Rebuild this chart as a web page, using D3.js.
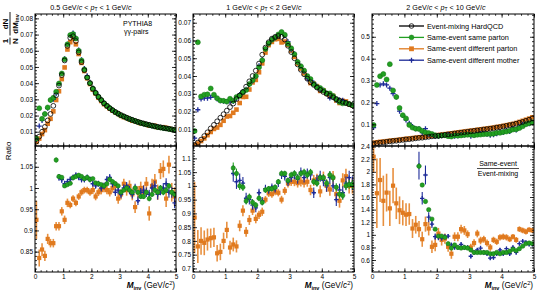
<!DOCTYPE html>
<html>
<head>
<meta charset="utf-8">
<script src="https://cdn.jsdelivr.net/npm/d3@7/dist/d3.min.js"></script>
<style>
  body { margin: 0; background: #fff; }
  svg { display: block; font-family: "Liberation Sans", Arial, Helvetica, sans-serif; }
</style>
</head>
<body>
<svg id="chart" width="538" height="292"></svg>
<script>
// invariant mass bins, 0.1 GeV/c^2 wide
const massBins = [0.05, 0.15, 0.25, 0.35, 0.45, 0.55, 0.65, 0.75, 0.85, 0.95,
  1.05, 1.15, 1.25, 1.35, 1.45, 1.55, 1.65, 1.75, 1.85, 1.95,
  2.05, 2.15, 2.25, 2.35, 2.45, 2.55, 2.65, 2.75, 2.85, 2.95,
  3.05, 3.15, 3.25, 3.35, 3.45, 3.55, 3.65, 3.75, 3.85, 3.95,
  4.05, 4.15, 4.25, 4.35, 4.45, 4.55, 4.65, 4.75, 4.85, 4.95]

const seriesNames = ['Event-mixing HardQCD', 'Same-event same parton', 'Same-event different parton', 'Same-event different mother']
const xTicks = [0, 1, 2, 3, 4, 5]

// ---- 0.5 < pT < 1 ----
const emPt1 = [0.004, 0.007, 0.010, 0.013, 0.017, 0.021, 0.026, 0.0325, 0.0385, 0.045,
  0.054, 0.063, 0.068, 0.069, 0.066, 0.059, 0.053, 0.048, 0.0435, 0.040,
  0.0365, 0.034, 0.0315, 0.0295, 0.0275, 0.026, 0.0245, 0.0233, 0.0222, 0.0212,
  0.0203, 0.0195, 0.0187, 0.018, 0.0173, 0.0167, 0.0161, 0.0156, 0.0151, 0.0146,
  0.0142, 0.0138, 0.0134, 0.013, 0.0127, 0.0124, 0.0121, 0.0118, 0.0115, 0.0112]
const sameParPt1 = [0.0058, 0.0245, 0.018, 0.021, 0.025, 0.0296, 0.031, 0.0347, 0.0398, 0.046,
  0.0547, 0.064, 0.0697, 0.0703, 0.0676, 0.060, 0.054, 0.0485, 0.0435, 0.040,
  0.0367, 0.034, 0.0316, 0.0296, 0.0276, 0.026, 0.0246, 0.0233, 0.0221, 0.0211,
  0.0201, 0.0194, 0.0186, 0.0178, 0.0173, 0.0166, 0.016, 0.0154, 0.015, 0.0145,
  0.0141, 0.0137, 0.0132, 0.0129, 0.0126, 0.0123, 0.012, 0.0117, 0.0114, 0.0111]
const diffParPt1 = [0.0037, 0.0058, 0.0086, 0.011, 0.015, 0.018, 0.0226, 0.0296, 0.035, 0.0425,
  0.0497, 0.0608, 0.0653, 0.0673, 0.064, 0.058, 0.0525, 0.0475, 0.043, 0.0395,
  0.036, 0.0336, 0.031, 0.029, 0.027, 0.0257, 0.0243, 0.023, 0.022, 0.021,
  0.0198, 0.019, 0.0185, 0.0177, 0.0168, 0.0165, 0.016, 0.0152, 0.015, 0.0145,
  0.0138, 0.014, 0.0137, 0.0128, 0.0127, 0.0128, 0.0124, 0.012, 0.0115, 0.0112]
const diffMomPt1 = [0.0052, 0.0135, 0.017, 0.021, 0.0245, 0.0295, 0.030, 0.0335, 0.0395, 0.046,
  0.055, 0.064, 0.0695, 0.071, 0.0678, 0.0605, 0.0545, 0.049, 0.0445, 0.0405,
  0.037, 0.0345, 0.032, 0.0297, 0.0277, 0.026, 0.0248, 0.0236, 0.0222, 0.021,
  0.02, 0.0194, 0.0184, 0.0176, 0.0174, 0.0164, 0.016, 0.0155, 0.0148, 0.0146,
  0.0142, 0.0136, 0.0134, 0.013, 0.0127, 0.0122, 0.012, 0.0118, 0.0114, 0.0108]

// ratios (first value of each list belongs to bin number "start")
const ratioSameParPt1 = {start: 7, v: [1.066, 1.027, 1.025, 1.005, 1.008, 1.011, 1.024, 1.027, 1.03, 1.027,
  1.022, 1.025, 1.02, 1.022, 1.012, 1.01, 1.008, 1.005, 1.01, 1.02,
  1.015, 1.01, 1.005, 0.99, 0.995, 1.0, 0.995, 0.99, 1.0, 0.99,
  0.98, 0.98, 0.99, 0.975, 0.985, 0.995, 0.99, 1.0, 0.99, 0.995,
  1.005, 0.99, 0.985],
  e: [0.006, 0.005, 0.005, 0.004, 0.004, 0.004, 0.004, 0.004, 0.004, 0.004,
  0.004, 0.004, 0.004, 0.004, 0.004, 0.004, 0.004, 0.004, 0.004, 0.005,
  0.005, 0.005, 0.005, 0.005, 0.005, 0.005, 0.005, 0.005, 0.006, 0.006,
  0.006, 0.006, 0.006, 0.006, 0.006, 0.006, 0.006, 0.007, 0.007, 0.007,
  0.007, 0.007, 0.007]}
const ratioDiffParPt1 = {start: 0, v: [0.925, 0.835, 0.855, 0.84, 0.88, 0.87, 0.87, 0.91, 0.91, 0.945,
  0.925, 0.965, 0.96, 0.975, 0.965, 0.98, 0.99, 0.995, 0.995, 0.99,
  0.995, 0.98, 0.99, 0.995, 1.0, 0.995, 0.99, 1.0, 1.005, 0.975,
  0.985, 1.01, 0.995, 1.005, 0.985, 0.955, 0.99, 1.0, 0.99, 1.01,
  0.94, 1.005, 1.015, 0.99, 1.04, 1.045, 0.975, 1.055, 0.99, 0.98],
  e: [0.045, 0.02, 0.015, 0.012, 0.012, 0.01, 0.01, 0.01, 0.01, 0.01,
  0.01, 0.01, 0.008, 0.008, 0.008, 0.008, 0.008, 0.008, 0.008, 0.008,
  0.009, 0.009, 0.009, 0.01, 0.01, 0.01, 0.01, 0.011, 0.011, 0.012,
  0.012, 0.012, 0.013, 0.013, 0.014, 0.014, 0.015, 0.015, 0.016, 0.016,
  0.017, 0.017, 0.018, 0.018, 0.019, 0.02, 0.02, 0.021, 0.022, 0.022]}
const ratioDiffMomPt1 = {start: 8, v: [1.025, 1.02, 1.01, 1.015, 1.02, 1.025, 1.03, 1.025, 1.02, 1.02,
  1.025, 1.02, 1.01, 1.005, 1.01, 1.0, 1.005, 1.02, 1.025, 1.01,
  0.99, 0.995, 0.985, 1.0, 1.005, 0.995, 0.985, 1.0, 0.97, 0.99,
  0.995, 0.99, 0.985, 1.0, 1.005, 0.985, 0.995, 1.0, 1.01, 0.99,
  0.99, 0.965],
  e: [0.008, 0.008, 0.007, 0.007, 0.007, 0.007, 0.007, 0.007, 0.007, 0.007,
  0.007, 0.007, 0.007, 0.007, 0.007, 0.008, 0.008, 0.008, 0.008, 0.008,
  0.009, 0.009, 0.009, 0.009, 0.009, 0.01, 0.01, 0.01, 0.01, 0.01,
  0.011, 0.011, 0.011, 0.011, 0.012, 0.012, 0.012, 0.012, 0.013, 0.013,
  0.013, 0.013]}

// ---- 1 < pT < 2 ----
const emPt2 = [0.0012, 0.0025, 0.0042, 0.0062, 0.0083, 0.0105, 0.0125, 0.0145, 0.0165, 0.0185,
  0.0205, 0.0225, 0.0245, 0.027, 0.029, 0.031, 0.034, 0.037, 0.040, 0.043,
  0.047, 0.052, 0.056, 0.059, 0.061, 0.062, 0.0625, 0.062, 0.0605, 0.057,
  0.0535, 0.050, 0.0465, 0.0435, 0.041, 0.0385, 0.0365, 0.035, 0.0335, 0.0322,
  0.031, 0.030, 0.029, 0.028, 0.027, 0.0262, 0.0255, 0.0248, 0.0241, 0.0235]
const sameParPt2 = [0.009, 0.059, 0.0285, 0.0295, 0.0297, 0.033, 0.0295, 0.0275, 0.0262, 0.026,
  0.0256, 0.0272, 0.0261, 0.0282, 0.029, 0.0308, 0.0321, 0.0355, 0.0376, 0.040,
  0.0449, 0.0489, 0.0552, 0.0584, 0.0604, 0.0617, 0.0634, 0.0648, 0.0632, 0.0581,
  0.0556, 0.0523, 0.0479, 0.0455, 0.0431, 0.040, 0.0383, 0.0355, 0.0338, 0.0332,
  0.0319, 0.0303, 0.0302, 0.0288, 0.0269, 0.0254, 0.0246, 0.0248, 0.0242, 0.0236]
const diffParPt2 = [0.0011, 0.002, 0.0034, 0.0049, 0.0067, 0.0085, 0.0102, 0.011, 0.0125, 0.0148,
  0.0172, 0.0175, 0.0193, 0.0211, 0.0248, 0.0282, 0.0283, 0.0324, 0.0364, 0.0378,
  0.0421, 0.0471, 0.0532, 0.0574, 0.0592, 0.0607, 0.0609, 0.0589, 0.0594, 0.0575,
  0.0543, 0.0508, 0.047, 0.0442, 0.0415, 0.0391, 0.036, 0.0357, 0.0343, 0.0316,
  0.0319, 0.030, 0.0286, 0.0288, 0.0262, 0.0248, 0.026, 0.0257, 0.0241, 0.0235]
const diffMomPt2 = [0.005, 0.021, 0.027, 0.0275, 0.0275, 0.028, 0.029, 0.027, 0.026, 0.0258,
  0.0255, 0.0255, 0.0256, 0.0274, 0.0296, 0.0313, 0.0325, 0.0352, 0.0372, 0.0396,
  0.0458, 0.0491, 0.0554, 0.0581, 0.0607, 0.0614, 0.0631, 0.0645, 0.0626, 0.0593,
  0.0548, 0.0525, 0.0479, 0.0455, 0.0426, 0.0385, 0.0376, 0.0362, 0.0342, 0.0322,
  0.032, 0.030, 0.0276, 0.0285, 0.0263, 0.0265, 0.0263, 0.0251, 0.0243, 0.0237]

const ratioSameParPt2 = {start: 12, v: [1.065, 1.045, 1.0, 0.995, 0.945, 0.96, 0.94, 0.93, 0.955, 0.94,
  0.985, 0.99, 0.99, 0.995, 1.015, 1.045, 1.045, 1.02, 1.04, 1.045,
  1.03, 1.045, 1.05, 1.04, 1.05, 1.015, 1.01, 1.03, 1.03, 1.01,
  1.04, 1.03, 0.995, 0.97, 0.965, 1.0, 1.005, 1.005],
  e: [0.02, 0.018, 0.015, 0.014, 0.013, 0.012, 0.012, 0.011, 0.011, 0.01,
  0.01, 0.01, 0.01, 0.01, 0.01, 0.01, 0.01, 0.01, 0.011, 0.011,
  0.011, 0.011, 0.012, 0.012, 0.012, 0.012, 0.013, 0.013, 0.013, 0.014,
  0.014, 0.014, 0.015, 0.015, 0.015, 0.016, 0.016, 0.016]}
const ratioDiffParPt2 = {start: 0, v: [0.885, 0.78, 0.80, 0.793, 0.805, 0.81, 0.813, 0.755, 0.76, 0.80,
  0.84, 0.776, 0.787, 0.78, 0.855, 0.91, 0.833, 0.876, 0.91, 0.88,
  0.895, 0.906, 0.95, 0.973, 0.97, 0.979, 0.975, 0.95, 0.982, 1.009,
  1.015, 1.015, 1.01, 1.015, 1.012, 1.015, 0.985, 1.02, 1.024, 0.98,
  1.03, 1.0, 0.987, 1.03, 0.97, 0.946, 1.02, 1.035, 1.0, 1.0],
  e: [0.13, 0.06, 0.05, 0.045, 0.04, 0.035, 0.035, 0.03, 0.03, 0.03,
  0.03, 0.025, 0.025, 0.022, 0.02, 0.02, 0.018, 0.018, 0.016, 0.016,
  0.015, 0.015, 0.013, 0.013, 0.013, 0.013, 0.013, 0.014, 0.014, 0.015,
  0.015, 0.016, 0.016, 0.017, 0.018, 0.018, 0.019, 0.02, 0.02, 0.021,
  0.022, 0.022, 0.023, 0.024, 0.025, 0.025, 0.026, 0.027, 0.028, 0.028]}
const ratioDiffMomPt2 = {start: 12, v: [1.045, 1.015, 1.02, 1.01, 0.955, 0.95, 0.93, 0.92, 0.975, 0.945,
  0.99, 0.985, 0.995, 0.99, 1.01, 1.04, 1.035, 1.015, 1.03, 1.04,
  1.025, 1.05, 1.03, 1.045, 1.04, 0.975, 1.02, 1.035, 1.02, 1.0,
  1.03, 1.0, 0.95, 0.985, 0.975, 1.01, 1.03, 1.01],
  e: [0.03, 0.026, 0.025, 0.022, 0.02, 0.018, 0.017, 0.016, 0.015, 0.015,
  0.014, 0.014, 0.014, 0.014, 0.014, 0.015, 0.015, 0.015, 0.016, 0.016,
  0.017, 0.017, 0.018, 0.018, 0.019, 0.019, 0.02, 0.02, 0.021, 0.021,
  0.022, 0.022, 0.023, 0.023, 0.024, 0.024, 0.025, 0.025]}

// ---- 2 < pT < 10 ----
const emPt3 = [0.012, 0.014, 0.016, 0.018, 0.020, 0.022, 0.024, 0.025, 0.027, 0.029,
  0.031, 0.032, 0.034, 0.036, 0.038, 0.039, 0.041, 0.043, 0.045, 0.046,
  0.048, 0.050, 0.052, 0.054, 0.056, 0.058, 0.060, 0.062, 0.064, 0.066,
  0.068, 0.070, 0.072, 0.074, 0.076, 0.078, 0.080, 0.082, 0.085, 0.087,
  0.090, 0.093, 0.096, 0.099, 0.103, 0.107, 0.111, 0.116, 0.121, 0.127]
const sameParPt3 = [0.097, 0.28, 0.32, 0.33, 0.305, 0.375, 0.255, 0.225, 0.175, 0.142,
  0.127, 0.097, 0.085, 0.08, 0.079, 0.070, 0.063, 0.060, 0.056, 0.050,
  0.047, 0.049, 0.050, 0.046, 0.044, 0.049, 0.048, 0.049, 0.051, 0.052,
  0.052, 0.050, 0.052, 0.053, 0.055, 0.056, 0.056, 0.057, 0.061, 0.061,
  0.065, 0.067, 0.071, 0.076, 0.077, 0.083, 0.091, 0.100, 0.105, 0.109]
const diffParPt3 = [0.016, 0.018, 0.020, 0.021, 0.023, 0.025, 0.027, 0.028, 0.030, 0.032,
  0.034, 0.035, 0.037, 0.039, 0.041, 0.042, 0.044, 0.046, 0.048, 0.049,
  0.051, 0.053, 0.055, 0.057, 0.059, 0.061, 0.063, 0.065, 0.067, 0.069,
  0.071, 0.073, 0.075, 0.077, 0.079, 0.081, 0.083, 0.085, 0.088, 0.090,
  0.093, 0.096, 0.099, 0.102, 0.106, 0.111, 0.116, 0.121, 0.126, 0.132]
const diffMomPt3 = [0.085, 0.195, 0.28, 0.285, 0.28, 0.265, 0.24, 0.225, 0.16, 0.14,
  0.12, 0.105, 0.09, 0.08, 0.08, 0.062, 0.08, 0.055, 0.053, 0.045,
  0.046, 0.048, 0.05, 0.053, 0.047, 0.046, 0.048, 0.053, 0.051, 0.053,
  0.045, 0.050, 0.055, 0.058, 0.059, 0.055, 0.050, 0.052, 0.057, 0.066,
  0.063, 0.073, 0.067, 0.082, 0.074, 0.089, 0.1, 0.102, 0.103, 0.108]

const ratioSameParPt3 = {start: 14, v: [2.09, 1.79, 1.53, 1.40, 1.25, 1.09, 0.98, 0.98, 0.96, 0.86,
  0.79, 0.84, 0.80, 0.79, 0.80, 0.79, 0.76, 0.72, 0.72, 0.72,
  0.72, 0.72, 0.70, 0.70, 0.72, 0.70, 0.72, 0.72, 0.74, 0.77,
  0.75, 0.78, 0.82, 0.86, 0.87, 0.86],
  e: [0.04, 0.03, 0.03, 0.025, 0.02, 0.02, 0.02, 0.018, 0.018, 0.016,
  0.015, 0.015, 0.015, 0.014, 0.014, 0.014, 0.013, 0.013, 0.013, 0.013,
  0.013, 0.013, 0.013, 0.013, 0.013, 0.013, 0.013, 0.013, 0.013, 0.013,
  0.013, 0.013, 0.014, 0.014, 0.014, 0.014]}
const ratioDiffParPt3 = {start: 0, v: [2.24, 1.66, 1.87, 1.54, 1.67, 1.42, 1.78, 1.50, 1.39, 1.35,
  1.32, 1.33, 1.10, 1.16, 1.09, 0.93, 1.17, 1.10, 0.81, 0.84,
  1.02, 0.92, 0.94, 0.81, 0.70, 0.97, 0.97, 1.09, 1.07, 1.01,
  0.80, 0.87, 1.02, 0.91, 0.93, 0.87, 0.80, 0.92, 0.89, 0.96,
  0.97, 0.96, 0.93, 0.97, 0.92, 1.09, 1.07, 1.05, 1.08, 1.07],
  e: [0.25, 0.55, 0.35, 0.4, 0.3, 0.28, 0.28, 0.25, 0.22, 0.2,
  0.18, 0.17, 0.15, 0.14, 0.13, 0.12, 0.12, 0.11, 0.1, 0.1,
  0.09, 0.09, 0.08, 0.08, 0.08, 0.07, 0.07, 0.07, 0.07, 0.06,
  0.06, 0.06, 0.06, 0.06, 0.055, 0.055, 0.055, 0.05, 0.05, 0.05,
  0.05, 0.05, 0.045, 0.045, 0.045, 0.045, 0.045, 0.045, 0.04, 0.04]}
const ratioDiffMomPt3 = {start: 14, v: [2.1, 1.58, 1.95, 1.28, 1.17, 0.97, 0.96, 0.95, 0.97, 0.98,
  0.84, 0.80, 0.80, 0.85, 0.80, 0.80, 0.66, 0.72, 0.76, 0.79,
  0.72, 0.70, 0.63, 0.64, 0.70, 0.76, 0.70, 0.78, 0.70, 0.80,
  0.72, 0.86, 0.90, 0.88, 0.85, 0.85],
  e: [0.22, 0.1, 0.15, 0.08, 0.06, 0.05, 0.045, 0.04, 0.04, 0.035,
  0.035, 0.03, 0.03, 0.03, 0.03, 0.03, 0.03, 0.03, 0.03, 0.03,
  0.03, 0.03, 0.03, 0.03, 0.03, 0.03, 0.03, 0.03, 0.03, 0.03,
  0.03, 0.03, 0.03, 0.03, 0.03, 0.03]}

const colors = {em: '#000000', same: '#22a022', diff: '#e07a1f', mom: '#1c2a98'}

const svg = d3.select('#chart')

// pad frames (pixels), top and ratio pads share the middle line
const TOP = 14, MID = 146, BOT = 272
const panels = [
  {left: 35, right: 176, titleX: 91, lo: '0.5', hi: '1',
   top: [emPt1, sameParPt1, diffParPt1, diffMomPt1], topDomain: [0.0012, 0.0827],
   topMajor: [0.01, 0.02, 0.03, 0.04, 0.05, 0.06, 0.07, 0.08], topMinorStep: 0.002,
   ratio: [ratioSameParPt1, ratioDiffParPt1, ratioDiffMomPt1], ratDomain: [0.802, 1.099],
   ratMajor: [0.85, 0.9, 0.95, 1, 1.05], ratMinorStep: 0.01},
  {left: 193, right: 354, titleX: 264, lo: '1', hi: '2',
   top: [emPt2, sameParPt2, diffParPt2, diffMomPt2], topDomain: [0.0006, 0.0749],
   topMajor: [0.01, 0.02, 0.03, 0.04, 0.05, 0.06, 0.07], topMinorStep: 0.002,
   ratio: [ratioSameParPt2, ratioDiffParPt2, ratioDiffMomPt2], ratDomain: [0.687, 1.145],
   ratMajor: [0.7, 0.75, 0.8, 0.85, 0.9, 0.95, 1, 1.05, 1.1], ratMinorStep: 0.01},
  {left: 372, right: 534, titleX: 446, lo: '2', hi: '10',
   top: [emPt3, sameParPt3, diffParPt3, diffMomPt3], topDomain: [0.001, 0.604],
   topMajor: [0.1, 0.2, 0.3, 0.4, 0.5], topMinorStep: 0.02,
   ratio: [ratioSameParPt3, ratioDiffParPt3, ratioDiffMomPt3], ratDomain: [0.41, 2.41],
   ratMajor: [0.6, 0.8, 1, 1.2, 1.4, 1.6, 1.8, 2, 2.2, 2.4], ratMinorStep: 0.04}
]

const fmt = v => String(+v.toFixed(3))

function minors(domain, step) {
  const out = []
  for (let v = Math.ceil(domain[0] / step) * step; v <= domain[1] + 1e-9; v += step) out.push(+v.toFixed(4))
  return out
}

function cleanAxis(g) {
  g.select('.domain').remove()
  g.selectAll('.tick line').attr('stroke', '#000').attr('stroke-width', 0.8)
  g.selectAll('.tick text').attr('font-size', 6.5).attr('fill', '#000')
    .attr('font-family', '"Liberation Sans", Arial, sans-serif')
}

// frame with inward ticks on all four sides
function drawFrame(x, y, yMajor, yMinorStep, showX) {
  const [y0, y1] = y.range()
  const [x0, x1] = x.range()
  const g = svg.append('g')
  const xMinor = minors([0, 5], 0.2)
  const yMinor = minors(y.domain(), yMinorStep)

  g.append('g').attr('transform', 'translate(0,' + y0 + ')')
    .call(d3.axisBottom(x).tickValues(xMinor).tickSize(-1.8).tickFormat(''))
    .call(cleanAxis)
  g.append('g').attr('transform', 'translate(0,' + y0 + ')')
    .call(d3.axisBottom(x).tickValues(xTicks).tickSize(-3.6).tickPadding(2)
      .tickFormat(showX ? d3.format('d') : ''))
    .call(cleanAxis)
  g.append('g').attr('transform', 'translate(0,' + y1 + ')')
    .call(d3.axisTop(x).tickValues(xMinor).tickSize(-1.8).tickFormat(''))
    .call(cleanAxis)
  g.append('g').attr('transform', 'translate(0,' + y1 + ')')
    .call(d3.axisTop(x).tickValues(xTicks).tickSize(-3.6).tickFormat(''))
    .call(cleanAxis)

  g.append('g').attr('transform', 'translate(' + x0 + ',0)')
    .call(d3.axisLeft(y).tickValues(yMinor).tickSize(-2).tickFormat(''))
    .call(cleanAxis)
  g.append('g').attr('transform', 'translate(' + x0 + ',0)')
    .call(d3.axisLeft(y).tickValues(yMajor).tickSize(-4).tickPadding(2).tickFormat(fmt))
    .call(cleanAxis)
  g.append('g').attr('transform', 'translate(' + x1 + ',0)')
    .call(d3.axisRight(y).tickValues(yMinor).tickSize(-2).tickFormat(''))
    .call(cleanAxis)
  g.append('g').attr('transform', 'translate(' + x1 + ',0)')
    .call(d3.axisRight(y).tickValues(yMajor).tickSize(-4).tickFormat(''))
    .call(cleanAxis)

  g.append('rect')
    .attr('x', x0).attr('y', y1)
    .attr('width', x1 - x0).attr('height', y0 - y1)
    .attr('fill', 'none').attr('stroke', '#000').attr('stroke-width', 1)
}

function marker(sel, kind, size) {
  if (kind === 'em') {
    sel.append('circle').attr('r', size * 0.48)
      .attr('fill', 'none').attr('stroke', colors.em).attr('stroke-width', 0.8)
  } else if (kind === 'same') {
    sel.append('circle').attr('r', size * 0.5)
      .attr('fill', colors.same).attr('stroke', '#137013').attr('stroke-width', 0.5)
  } else if (kind === 'diff') {
    sel.append('rect').attr('x', -size / 2).attr('y', -size / 2)
      .attr('width', size).attr('height', size).attr('fill', colors.diff)
  } else {
    sel.append('path').attr('d', 'M' + (-size / 2) + ',0H' + (size / 2) + 'M0,' + (-size / 2) + 'V' + (size / 2))
      .attr('stroke', colors.mom).attr('stroke-width', 1.3).attr('fill', 'none')
  }
}

function drawPoints(layer, x, y, pts, kind, size) {
  const errColor = kind === 'diff' ? '#e8903f' : colors[kind]
  layer.selectAll(null).data(pts.filter(d => d.e)).enter()
    .append('line')
    .attr('x1', d => x(d.m)).attr('x2', d => x(d.m))
    .attr('y1', d => y(d.v - d.e)).attr('y2', d => y(d.v + d.e))
    .attr('stroke', errColor).attr('stroke-width', kind === 'diff' ? 1.6 : 1.1)
  layer.selectAll(null).data(pts).enter()
    .append('g')
    .attr('transform', d => 'translate(' + x(d.m) + ',' + y(d.v) + ')')
    .each(function () { marker(d3.select(this), kind, size) })
}

panels.forEach((p, k) => {
  const x = d3.scaleLinear().domain([0, 5]).range([p.left, p.right])
  const yTop = d3.scaleLinear().domain(p.topDomain).range([MID, TOP])
  const yRat = d3.scaleLinear().domain(p.ratDomain).range([BOT, MID])

  const clipTop = 'clipTop' + k, clipRat = 'clipRat' + k
  const defs = svg.append('defs')
  defs.append('clipPath').attr('id', clipTop).append('rect')
    .attr('x', p.left).attr('y', TOP).attr('width', p.right - p.left).attr('height', MID - TOP)
  defs.append('clipPath').attr('id', clipRat).append('rect')
    .attr('x', p.left).attr('y', MID).attr('width', p.right - p.left).attr('height', BOT - MID)

  // upper pad: normalised spectra
  const top = svg.append('g').attr('clip-path', 'url(#' + clipTop + ')')
  const [em, same, diff, mom] = p.top
  const asPts = vals => massBins.map((m, i) => ({m: m, v: vals[i], e: 0}))
  drawPoints(top, x, yTop, asPts(diff), 'diff', 4.6)
  drawPoints(top, x, yTop, asPts(mom), 'mom', 5)
  drawPoints(top, x, yTop, asPts(same), 'same', 5)
  drawPoints(top, x, yTop, asPts(em), 'em', 5)

  // lower pad: ratio to event mixing
  const rat = svg.append('g').attr('clip-path', 'url(#' + clipRat + ')')
  const ratioPts = r => r.v.map((v, i) => ({m: massBins[r.start + i], v: v, e: r.e[i] || 0}))
  const [rSame, rDiff, rMom] = p.ratio
  drawPoints(rat, x, yRat, ratioPts(rDiff), 'diff', 4.2)
  drawPoints(rat, x, yRat, ratioPts(rMom), 'mom', 4.4)
  drawPoints(rat, x, yRat, ratioPts(rSame), 'same', 4.4)

  drawFrame(x, yTop, p.topMajor, p.topMinorStep, false)
  drawFrame(x, yRat, p.ratMajor, p.ratMinorStep, true)

  // pT bin title
  const t = svg.append('text').attr('x', p.titleX).attr('y', 9.5)
    .attr('text-anchor', 'middle').attr('font-size', 7.2)
  t.append('tspan').text(p.lo + ' GeV/')
  t.append('tspan').attr('font-style', 'italic').text('c')
  t.append('tspan').text(' < ')
  t.append('tspan').attr('font-style', 'italic').text('p')
  t.append('tspan').attr('font-size', 5).attr('dy', 1.8).text('T')
  t.append('tspan').attr('dy', -1.8).text(' < ' + p.hi + ' GeV/')
  t.append('tspan').attr('font-style', 'italic').text('c')

  // x axis title under the ratio pad
  const xt = svg.append('text').attr('x', p.right - 1).attr('y', 287.5)
    .attr('text-anchor', 'end').attr('font-size', 8.2)
  xt.append('tspan').attr('font-style', 'italic').attr('font-weight', 'bold').text('M')
  xt.append('tspan').attr('font-size', 5.5).attr('dy', 2).attr('font-weight', 'bold').text('inv')
  xt.append('tspan').attr('dy', -2).text(' (GeV/')
  xt.append('tspan').attr('font-style', 'italic').text('c')
  xt.append('tspan').attr('font-size', 5.5).attr('dy', -3).text('2')
  xt.append('tspan').attr('dy', 3).text(')')
})

// y titles
const yt = svg.append('g').attr('transform', 'translate(10,0) rotate(-90)')
  .attr('font-weight', 'bold').attr('text-anchor', 'middle')
yt.append('text').attr('x', -41).attr('y', -1.8).attr('font-size', 8).text('1')
yt.append('line').attr('x1', -44.5).attr('x2', -37.5).attr('y1', 0).attr('y2', 0).attr('stroke', '#000').attr('stroke-width', 0.9)
yt.append('text').attr('x', -41).attr('y', 7.5).attr('font-size', 8).text('N')
yt.append('text').attr('x', -24).attr('y', -1.8).attr('font-size', 8).text('dN')
yt.append('line').attr('x1', -35.5).attr('x2', -12).attr('y1', 0).attr('y2', 0).attr('stroke', '#000').attr('stroke-width', 0.9)
const dm = yt.append('text').attr('x', -24).attr('y', 7.5).attr('font-size', 8)
dm.append('tspan').text('dM')
dm.append('tspan').attr('font-size', 5.5).attr('dy', 1.5).text('inv')

svg.append('text').attr('transform', 'translate(10.5,151) rotate(-90)')
  .attr('text-anchor', 'middle').attr('font-size', 8).text('Ratio')

// generator label
svg.append('text').attr('x', 123).attr('y', 25.5).attr('font-size', 7).text('PYTHIA8')
svg.append('text').attr('x', 124).attr('y', 34).attr('font-size', 7).text('\u03b3\u03b3-pairs')

// legend in the last upper pad
const legend = svg.append('g')
seriesNames.forEach((name, i) => {
  const kind = ['em', 'same', 'diff', 'mom'][i]
  const ly = 26 + i * 11.4
  legend.append('line').attr('x1', 399).attr('x2', 424).attr('y1', ly).attr('y2', ly)
    .attr('stroke', kind === 'em' ? '#000' : colors[kind]).attr('stroke-width', 1.3)
  marker(legend.append('g').attr('transform', 'translate(411.5,' + ly + ')'), kind, kind === 'mom' ? 5 : 4.8)
  legend.append('text').attr('x', 427).attr('y', ly).attr('dy', '0.35em')
    .attr('font-size', 7.3).text(name)
})

// ratio definition
svg.append('text').attr('x', 498).attr('y', 166).attr('text-anchor', 'middle').attr('font-size', 7).text('Same-event')
svg.append('line').attr('x1', 477).attr('x2', 519).attr('y1', 168.5).attr('y2', 168.5).attr('stroke', '#000').attr('stroke-width', 0.7)
svg.append('text').attr('x', 498).attr('y', 175.5).attr('text-anchor', 'middle').attr('font-size', 7).text('Event-mixing')
</script>
</body>
</html>
